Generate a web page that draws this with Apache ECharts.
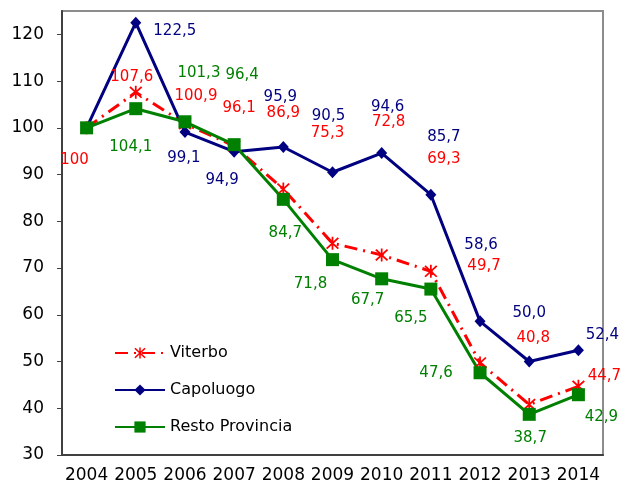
<!DOCTYPE html>
<html>
<head>
<meta charset="utf-8">
<script src="https://cdn.jsdelivr.net/npm/echarts@6/dist/echarts.min.js"></script>
<style>
  html, body { margin: 0; padding: 0; background: #fff; }
  #chart { width: 629px; height: 491px; }
</style>
</head>
<body>
<div id="chart"></div>
<script>
var years = ['2004', '2005', '2006', '2007', '2008', '2009', '2010', '2011', '2012', '2013', '2014'];
var viterbo = [100, 107.6, 100.9, 96.1, 86.9, 75.3, 72.8, 69.3, 49.7, 40.8, 44.7];
var capoluogo = [100, 122.5, 99.1, 94.9, 95.9, 90.5, 94.6, 85.7, 58.6, 50.0, 52.4];
var resto = [100, 104.1, 101.3, 96.4, 84.7, 71.8, 67.7, 65.5, 47.6, 38.7, 42.9];

// label offsets from the point (null = no label)
var viterboOff = [[-12, 32], [-4, -15], [11, -28], [5, -38], [0, -76], [-5, -110], [7, -133], [13, -112], [4, -97], [4, -66], [26, -10]];
var capoluogoOff = [null, [39, 8], [-1, 26], [-12, 28], [-3, -50], [-4, -56], [6, -46], [13, -58], [1, -76], [0, -48], [24, -15]];
var restoOff = [null, [-5, 38], [14, -49], [8, -70], [2, 34], [-22, 24], [-14, 21], [-20, 29], [-44, 0], [1, 24], [23, 22]];

var FONT = 'DejaVu Sans';
var asterisk = 'path://M10.5,0h3v24h-3z M0.9,3.1 L3.1,0.9 L23.1,20.9 L20.9,23.1z M20.9,0.9 L23.1,3.1 L3.1,23.1 L0.9,20.9z';

function fmt(v, i) {
    if (i === 0) return String(v);
    return v.toFixed(1).replace('.', ',');
}

function buildData(vals, offs, color) {
    var out = [];
    for (var i = 0; i < vals.length; i++) {
        var item = { value: vals[i] };
        if (offs[i]) {
            item.label = {
                show: true,
                position: 'inside',
                offset: offs[i],
                color: color,
                fontSize: 15,
                fontFamily: FONT,
                formatter: fmt(vals[i], i)
            };
        } else {
            item.label = { show: false };
        }
        out.push(item);
    }
    return out;
}

var chart = echarts.init(document.getElementById('chart'));
var option = {
    animation: false,
    backgroundColor: '#fff',
    grid: {
        left: 62,
        right: 26,
        top: 11,
        bottom: 36,
        show: true,
        borderColor: '#8c8c8c',
        borderWidth: 2
    },
    legend: {
        orient: 'vertical',
        left: 109,
        top: 340,
        itemWidth: 50,
        itemHeight: 14,
        itemGap: 21,
        textStyle: { color: '#000', fontSize: 16, fontFamily: FONT },
        data: ['Viterbo', 'Capoluogo', 'Resto Provincia']
    },
    xAxis: {
        type: 'category',
        data: years,
        boundaryGap: true,
        axisLine: { lineStyle: { color: '#404040', width: 2 } },
        axisTick: { length: 5, lineStyle: { color: '#404040', width: 1 } },
        axisLabel: { color: '#000', fontSize: 17, fontFamily: FONT, margin: 12, interval: 0 }
    },
    yAxis: {
        type: 'value',
        min: 30,
        max: 125,
        interval: 10,
        splitLine: { show: false },
        axisLine: { show: true, lineStyle: { color: '#404040', width: 2 } },
        axisTick: { show: true, length: 5, lineStyle: { color: '#404040', width: 1 } },
        axisLabel: {
            color: '#000', fontSize: 17, fontFamily: FONT, margin: 18, showMaxLabel: false,
            formatter: function (v) { return v > 120 ? '' : v; }
        }
    },
    series: [
        {
            name: 'Viterbo',
            type: 'line',
            data: buildData(viterbo, viterboOff, '#ff0000'),
            symbol: asterisk,
            symbolSize: 13,
            itemStyle: { color: '#ff0000' },
            lineStyle: { color: '#ff0000', width: 3, type: [13, 6, 2, 6] }
        },
        {
            name: 'Capoluogo',
            type: 'line',
            data: buildData(capoluogo, capoluogoOff, '#000080'),
            symbol: 'diamond',
            symbolSize: [11, 12],
            itemStyle: { color: '#000080' },
            lineStyle: { color: '#000080', width: 3 }
        },
        {
            name: 'Resto Provincia',
            type: 'line',
            data: buildData(resto, restoOff, '#008000'),
            symbol: 'rect',
            symbolSize: 13,
            itemStyle: { color: '#008000' },
            lineStyle: { color: '#008000', width: 3 }
        }
    ]
};
chart.setOption(option);
</script>
</body>
</html>
